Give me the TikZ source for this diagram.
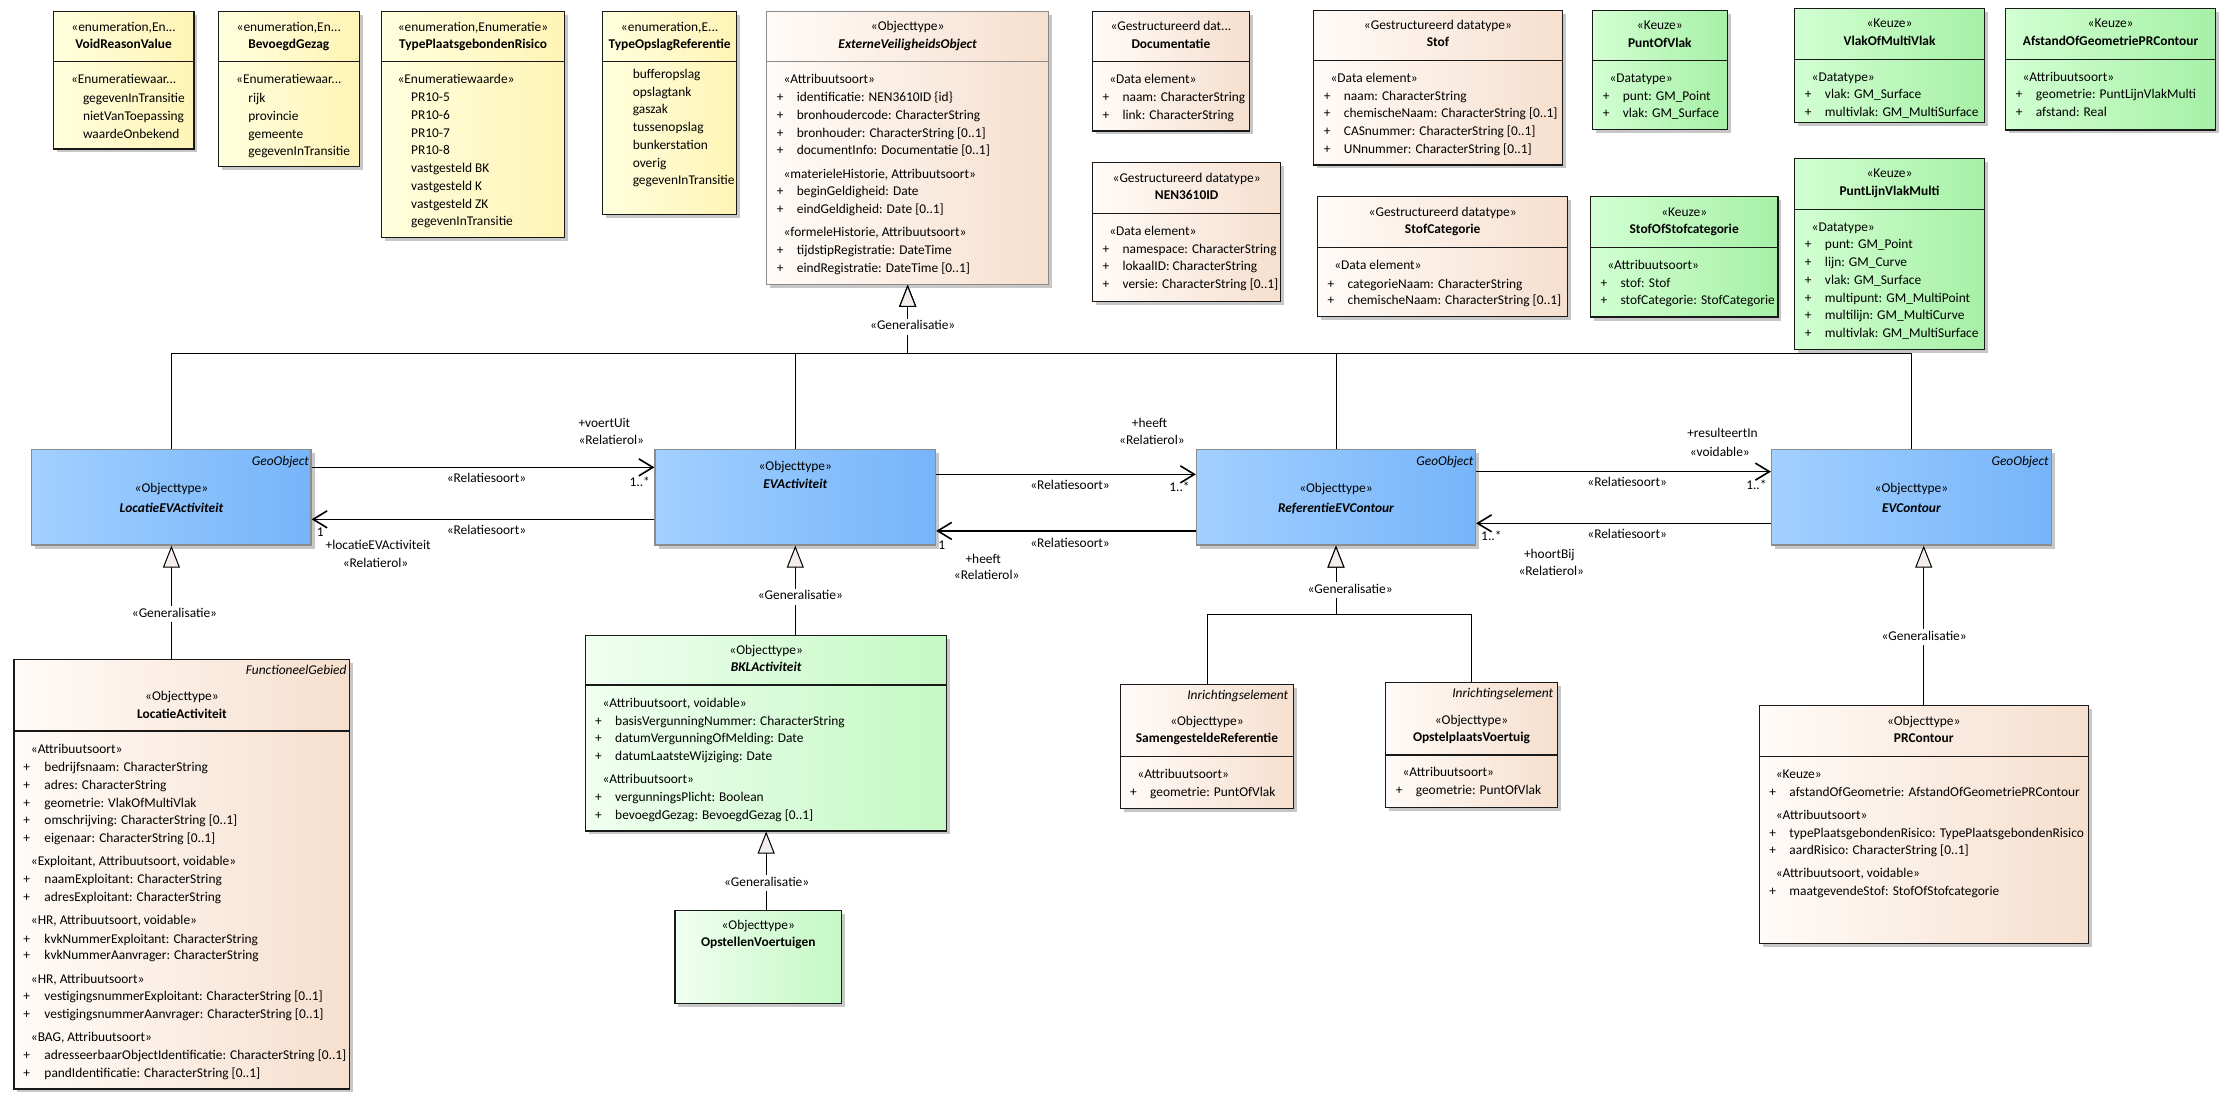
\documentclass[tikz,border=0pt]{standalone}
\usepackage{fontspec}
\setmainfont{Carlito}
\usetikzlibrary{positioning}
\usetikzlibrary{fit}
\usetikzlibrary{shadows}
\usetikzlibrary{arrows.meta}

\definecolor{geelL}{HTML}{FFFFDE}
\definecolor{geelR}{HTML}{FFF4B6}
\definecolor{beigeL}{HTML}{FFFBF8}
\definecolor{beigeR}{HTML}{F6DFCE}
\definecolor{groenL}{HTML}{D2FFD2}
\definecolor{groenR}{HTML}{A6F0A6}
\definecolor{lgroenL}{HTML}{F0FFF0}
\definecolor{lgroenR}{HTML}{C4F8C4}
\definecolor{blauwL}{HTML}{A2D0FF}
\definecolor{blauwR}{HTML}{76B4FA}
\definecolor{pijlvul}{HTML}{F3EEEC}

\newcommand{\tekst}{\fontsize{13.4}{16}\selectfont}

\tikzset{
    klasse/.style={draw=black!90, line width=1.2pt, inner sep=0pt,
        drop shadow={shadow xshift=3.5pt, shadow yshift=-3.5pt, fill=black!22, opacity=1}},
    enumbox/.style={klasse, left color=geelL, right color=geelR},
    databox/.style={klasse, left color=beigeL, right color=beigeR},
    keuzebox/.style={klasse, left color=groenL, right color=groenR},
    bklbox/.style={klasse, left color=lgroenL, right color=lgroenR},
    geobox/.style={klasse, draw=black!45, left color=blauwL, right color=blauwR},
    st/.style={font=\tekst, inner sep=0pt, text height=9pt, text depth=3pt},
    nm/.style={st, font=\tekst\bfseries},
    nmi/.style={st, font=\tekst\bfseries\itshape},
    attr/.style={st, anchor=west},
    tag/.style={st, font=\tekst\itshape, anchor=east},
    genlabel/.style={st, fill=white, inner xsep=1pt, inner ysep=2pt},
    scheiding/.style={line width=1.2pt, draw=black!90},
    assoc/.style={line width=1.6pt, -{Straight Barb[length=14pt, width=17pt, line width=1.6pt]}},
    genlijn/.style={line width=0.9pt, -{Triangle[length=22pt, width=17pt, fill=pijlvul, line width=1pt]}}
}

\begin{document}
\begin{tikzpicture}[x=1.428pt, y=-1.428pt]

    \path[use as bounding box, fill=white] (0,0) rectangle (1568,776);

    % Definindo enumeracoes
    \node[enumbox, fit={(37.3,8.2) (135.8,104.3)}] (void) {};
    \node[st] at (void.north |- 0,19.8) {«enumeration,En...};
    \node[nm] at (void.north |- 0,32) {VoidReasonValue};
    \draw[scheiding] (void.west |- 0,43.2) -- (void.east |- 0,43.2);
    \node[attr] at (49.6,56.5) {«Enumeratiewaar...};
    \foreach \y/\txt in {69.6/{gegevenInTransitie}, 82.2/{nietVanToepassing}, 94.6/{waardeOnbekend}}
        \node[attr] at (58,\y) {\txt};

    \node[enumbox, fit={(153,8.2) (251.5,116.7)}] (bevoegd) {};
    \node[st] at (bevoegd.north |- 0,19.8) {«enumeration,En...};
    \node[nm] at (bevoegd.north |- 0,32) {BevoegdGezag};
    \draw[scheiding] (bevoegd.west |- 0,43.2) -- (bevoegd.east |- 0,43.2);
    \node[attr] at (165.3,56.5) {«Enumeratiewaar...};
    \foreach \y/\txt in {69.6/{rijk}, 82.2/{provincie}, 94.6/{gemeente}, 106.9/{gegevenInTransitie}}
        \node[attr] at (173.8,\y) {\txt};

    \node[enumbox, fit={(267.1,8.2) (395.4,166.4)}] (typepr) {};
    \node[st] at (typepr.north |- 0,19.8) {«enumeration,Enumeratie»};
    \node[nm] at (typepr.north |- 0,32) {TypePlaatsgebondenRisico};
    \draw[scheiding] (typepr.west |- 0,43.2) -- (typepr.east |- 0,43.2);
    \node[attr] at (278.3,56.5) {«Enumeratiewaarde»};
    \foreach \y/\txt in {69.3/{PR10-5}, 81.7/{PR10-6}, 94.1/{PR10-7}, 106.2/{PR10-8},
                         118.6/{vastgesteld BK}, 131.4/{vastgesteld K}, 143.6/{vastgesteld ZK},
                         155.9/{gegevenInTransitie}}
        \node[attr] at (287.8,\y) {\txt};

    \node[enumbox, fit={(421.9,8.2) (516,150.1)}] (typeopslag) {};
    \node[st] at (typeopslag.north |- 0,19.8) {«enumeration,E...};
    \node[nm] at (typeopslag.north |- 0,32) {TypeOpslagReferentie};
    \draw[scheiding] (typeopslag.west |- 0,43.2) -- (typeopslag.east |- 0,43.2);
    \foreach \y/\txt in {53.2/{bufferopslag}, 65.8/{opslagtank}, 77.7/{gaszak}, 89.9/{tussenopslag},
                         102.7/{bunkerstation}, 115.3/{overig}, 127.2/{gegevenInTransitie}}
        \node[attr] at (443,\y) {\txt};

    % Definindo objecttype e datatypes
    \node[databox, draw=black!45, fit={(536.9,8.2) (734.4,199.1)}] (extvo) {};
    \node[st] at (extvo.north |- 0,19.4) {«Objecttype»};
    \node[nmi] at (extvo.north |- 0,32) {ExterneVeiligheidsObject};
    \draw[scheiding, draw=black!45] (extvo.west |- 0,43.2) -- (extvo.east |- 0,43.2);
    \foreach \y/\txt in {56.5/{«Attribuutsoort»}, 123/{«materieleHistorie, Attribuutsoort»},
                         163.4/{«formeleHistorie, Attribuutsoort»}}
        \node[attr] at (548.6,\y) {\txt};
    \foreach \y/\txt in {69.1/{identificatie: NEN3610ID \{id\}}, 81.7/{bronhoudercode: CharacterString},
                         94.3/{bronhouder: CharacterString [0..1]}, 106.2/{documentInfo: Documentatie [0..1]},
                         134.9/{beginGeldigheid: Date}, 147.5/{eindGeldigheid: Date [0..1]},
                         176.2/{tijdstipRegistratie: DateTime}, 188.6/{eindRegistratie: DateTime [0..1]}}
        {\node[attr] at (543.9,\y) {+}; \node[attr] at (557.9,\y) {\txt};}

    \node[databox, fit={(765,8.2) (875,91.7)}] (docu) {};
    \node[st] at (docu.north |- 0,19.4) {«Gestructureerd dat...};
    \node[nm] at (docu.north |- 0,32) {Documentatie};
    \draw[scheiding] (docu.west |- 0,43.2) -- (docu.east |- 0,43.2);
    \node[attr] at (776.7,56.5) {«Data element»};
    \foreach \y/\txt in {69.1/{naam: CharacterString}, 81.7/{link: CharacterString}}
        {\node[attr] at (772,\y) {+}; \node[attr] at (786,\y) {\txt};}

    \node[databox, fit={(765,113.7) (897,211.3)}] (nen) {};
    \node[st] at (nen.north |- 0,126) {«Gestructureerd datatype»};
    \node[nm] at (nen.north |- 0,137.7) {NEN3610ID};
    \draw[scheiding] (nen.west |- 0,149.4) -- (nen.east |- 0,149.4);
    \node[attr] at (776.7,162.7) {«Data element»};
    \foreach \y/\txt in {175.5/{namespace: CharacterString}, 187.4/{lokaalID: CharacterString},
                         200/{versie: CharacterString [0..1]}}
        {\node[attr] at (772,\y) {+}; \node[attr] at (786,\y) {\txt};}

    \node[databox, fit={(920,7.5) (1094,115.5)}] (stof) {};
    \node[st] at (stof.north |- 0,18.7) {«Gestructureerd datatype»};
    \node[nm] at (stof.north |- 0,30.8) {Stof};
    \draw[scheiding] (stof.west |- 0,42.3) -- (stof.east |- 0,42.3);
    \node[attr] at (931.7,55.6) {«Data element»};
    \foreach \y/\txt in {68.4/{naam: CharacterString}, 80.5/{chemischeNaam: CharacterString [0..1]},
                         92.9/{CASnummer: CharacterString [0..1]}, 105.5/{UNnummer: CharacterString [0..1]}}
        {\node[attr] at (927,\y) {+}; \node[attr] at (941,\y) {\txt};}

    \node[databox, fit={(922.6,137.7) (1098,221.8)}] (stofcat) {};
    \node[st] at (stofcat.north |- 0,149.4) {«Gestructureerd datatype»};
    \node[nm] at (stofcat.north |- 0,161.5) {StofCategorie};
    \draw[scheiding] (stofcat.west |- 0,173.2) -- (stofcat.east |- 0,173.2);
    \node[attr] at (934.3,186.7) {«Data element»};
    \foreach \y/\txt in {199.6/{categorieNaam: CharacterString}, 211.3/{chemischeNaam: CharacterString [0..1]}}
        {\node[attr] at (929.6,\y) {+}; \node[attr] at (943.6,\y) {\txt};}

    % Definindo keuzes
    \node[keuzebox, fit={(1115.3,7.5) (1209.5,90.6)}] (puntofvlak) {};
    \node[st] at (puntofvlak.north |- 0,18.7) {«Keuze»};
    \node[nm] at (puntofvlak.north |- 0,31) {PuntOfVlak};
    \draw[scheiding] (puntofvlak.west |- 0,42.5) -- (puntofvlak.east |- 0,42.5);
    \node[attr] at (1127,56) {«Datatype»};
    \foreach \y/\txt in {68.4/{punt: GM\_Point}, 80.5/{vlak: GM\_Surface}}
        {\node[attr] at (1122.3,\y) {+}; \node[attr] at (1136.3,\y) {\txt};}

    \node[keuzebox, fit={(1256.9,6.1) (1389.6,85.7)}] (vlakof) {};
    \node[st] at (vlakof.north |- 0,17) {«Keuze»};
    \node[nm] at (vlakof.north |- 0,29.6) {VlakOfMultiVlak};
    \draw[scheiding] (vlakof.west |- 0,41.8) -- (vlakof.east |- 0,41.8);
    \node[attr] at (1268.6,55.3) {«Datatype»};
    \foreach \y/\txt in {67.2/{vlak: GM\_Surface}, 79.8/{multivlak: GM\_MultiSurface}}
        {\node[attr] at (1263.9,\y) {+}; \node[attr] at (1277.9,\y) {\txt};}

    \node[keuzebox, fit={(1404.6,6.1) (1551.6,91)}] (afstand) {};
    \node[st] at (afstand.north |- 0,17) {«Keuze»};
    \node[nm] at (afstand.north |- 0,29.6) {AfstandOfGeometriePRContour};
    \draw[scheiding] (afstand.west |- 0,41.8) -- (afstand.east |- 0,41.8);
    \node[attr] at (1416.3,55.3) {«Attribuutsoort»};
    \foreach \y/\txt in {67.2/{geometrie: PuntLijnVlakMulti}, 79.8/{afstand: Real}}
        {\node[attr] at (1411.6,\y) {+}; \node[attr] at (1425.6,\y) {\txt};}

    \node[keuzebox, fit={(1113.8,137.7) (1245.1,222)}] (stofof) {};
    \node[st] at (stofof.north |- 0,149.4) {«Keuze»};
    \node[nm] at (stofof.north |- 0,161.5) {StofOfStofcategorie};
    \draw[scheiding] (stofof.west |- 0,173.4) -- (stofof.east |- 0,173.4);
    \node[attr] at (1125.5,186.7) {«Attribuutsoort»};
    \foreach \y/\txt in {199.1/{stof: Stof}, 211.3/{stofCategorie: StofCategorie}}
        {\node[attr] at (1120.8,\y) {+}; \node[attr] at (1134.8,\y) {\txt};}

    \node[keuzebox, fit={(1256.9,111.1) (1389.6,245)}] (puntlijn) {};
    \node[st] at (puntlijn.north |- 0,122.5) {«Keuze»};
    \node[nm] at (puntlijn.north |- 0,134.9) {PuntLijnVlakMulti};
    \draw[scheiding] (puntlijn.west |- 0,146.6) -- (puntlijn.east |- 0,146.6);
    \node[attr] at (1268.6,160.1) {«Datatype»};
    \foreach \y/\txt in {172/{punt: GM\_Point}, 184.6/{lijn: GM\_Curve}, 197.2/{vlak: GM\_Surface},
                         209.6/{multipunt: GM\_MultiPoint}, 221.7/{multilijn: GM\_MultiCurve},
                         234.1/{multivlak: GM\_MultiSurface}}
        {\node[attr] at (1263.9,\y) {+}; \node[attr] at (1277.9,\y) {\txt};}

    % Definindo geo-objecten
    \node[geobox, fit={(22.3,314.7) (217.8,381.7)}] (locev) {};
    \node[tag] at (216.5,324) {GeoObject};
    \node[st] at (locev.north |- 0,342.7) {«Objecttype»};
    \node[nmi] at (locev.north |- 0,356.7) {LocatieEVActiviteit};

    \node[geobox, fit={(458.7,314.7) (655.2,381.7)}] (evact) {};
    \node[st] at (evact.north |- 0,327.5) {«Objecttype»};
    \node[nmi] at (evact.north |- 0,339.9) {EVActiviteit};

    \node[geobox, fit={(837.9,314.7) (1033.3,381.7)}] (refev) {};
    \node[tag] at (1032,324) {GeoObject};
    \node[st] at (refev.north |- 0,343.1) {«Objecttype»};
    \node[nmi] at (refev.north |- 0,356.5) {ReferentieEVContour};

    \node[geobox, fit={(1240.6,314.7) (1436.6,381.7)}] (evcont) {};
    \node[tag] at (1434.8,324) {GeoObject};
    \node[st] at (evcont.north |- 0,343.1) {«Objecttype»};
    \node[nmi] at (evcont.north |- 0,356.5) {EVContour};

    % Definindo subtypes
    \node[databox, fit={(9.8,461.6) (245,762.6)}] (locact) {};
    \node[tag] at (242.8,470.4) {FunctioneelGebied};
    \node[st] at (locact.north |- 0,488.6) {«Objecttype»};
    \node[nm] at (locact.north |- 0,500.9) {LocatieActiviteit};
    \draw[scheiding] (locact.west |- 0,511.9) -- (locact.east |- 0,511.9);
    \foreach \y/\txt in {525.4/{«Attribuutsoort»}, 603.9/{«Exploitant, Attribuutsoort, voidable»},
                         645.4/{«HR, Attribuutsoort, voidable»}, 686.5/{«HR, Attribuutsoort»},
                         727.1/{«BAG, Attribuutsoort»}}
        \node[attr] at (21.5,\y) {\txt};
    \foreach \y/\txt in {538.3/{bedrijfsnaam: CharacterString}, 550.9/{adres: CharacterString},
                         563.3/{geometrie: VlakOfMultiVlak}, 575.6/{omschrijving: CharacterString [0..1]},
                         588.2/{eigenaar: CharacterString [0..1]}, 616.7/{naamExploitant: CharacterString},
                         629.3/{adresExploitant: CharacterString}, 658.3/{kvkNummerExploitant: CharacterString},
                         670/{kvkNummerAanvrager: CharacterString},
                         698.9/{vestigingsnummerExploitant: CharacterString [0..1]},
                         711.3/{vestigingsnummerAanvrager: CharacterString [0..1]},
                         740/{adresseerbaarObjectIdentificatie: CharacterString [0..1]},
                         752.3/{pandIdentificatie: CharacterString [0..1]}}
        {\node[attr] at (16.3,\y) {+}; \node[attr] at (31,\y) {\txt};}

    \node[bklbox, fit={(410.1,444.9) (663,581.9)}] (bkl) {};
    \node[st] at (bkl.north |- 0,456.3) {«Objecttype»};
    \node[nmi] at (bkl.north |- 0,468) {BKLActiviteit};
    \draw[scheiding] (bkl.west |- 0,479.7) -- (bkl.east |- 0,479.7);
    \foreach \y/\txt in {493.2/{«Attribuutsoort, voidable»}, 546.4/{«Attribuutsoort»}}
        \node[attr] at (421.8,\y) {\txt};
    \foreach \y/\txt in {506.1/{basisVergunningNummer: CharacterString}, 517.7/{datumVergunningOfMelding: Date},
                         530.3/{datumLaatsteWijziging: Date}, 559.3/{vergunningsPlicht: Boolean},
                         571.9/{bevoegdGezag: BevoegdGezag [0..1]}}
        {\node[attr] at (416.7,\y) {+}; \node[attr] at (430.7,\y) {\txt};}

    \node[bklbox, fit={(472.7,637.7) (589.4,703)}] (opst) {};
    \node[st] at (opst.north |- 0,649) {«Objecttype»};
    \node[nm] at (opst.north |- 0,661) {OpstellenVoertuigen};

    \node[databox, fit={(784.8,479.2) (905.7,566)}] (samref) {};
    \node[tag] at (902.2,487.9) {Inrichtingselement};
    \node[st] at (samref.north |- 0,506.1) {«Objecttype»};
    \node[nm] at (samref.north |- 0,517.7) {SamengesteldeReferentie};
    \draw[scheiding] (samref.west |- 0,529.9) -- (samref.east |- 0,529.9);
    \node[attr] at (796.4,543.2) {«Attribuutsoort»};
    \node[attr] at (791.3,555.5) {+};
    \node[attr] at (805.3,555.5) {geometrie: PuntOfVlak};

    \node[databox, fit={(970.4,478) (1090.6,565.6)}] (opstel) {};
    \node[tag] at (1087.8,486.7) {Inrichtingselement};
    \node[st] at (opstel.north |- 0,505.5) {«Objecttype»};
    \node[nm] at (opstel.north |- 0,517.5) {OpstelplaatsVoertuig};
    \draw[scheiding] (opstel.west |- 0,528.7) -- (opstel.east |- 0,528.7);
    \node[attr] at (982.1,542) {«Attribuutsoort»};
    \node[attr] at (977.4,554.4) {+};
    \node[attr] at (991.4,554.4) {geometrie: PuntOfVlak};

    \node[databox, fit={(1232,494.2) (1462.4,660.6)}] (prc) {};
    \node[st] at (prc.north |- 0,506.1) {«Objecttype»};
    \node[nm] at (prc.north |- 0,517.7) {PRContour};
    \draw[scheiding] (prc.west |- 0,529.9) -- (prc.east |- 0,529.9);
    \foreach \y/\txt in {543.2/{«Keuze»}, 571.9/{«Attribuutsoort»}, 612.7/{«Attribuutsoort, voidable»}}
        \node[attr] at (1243.5,\y) {\txt};
    \foreach \y/\txt in {555.5/{afstandOfGeometrie: AfstandOfGeometriePRContour},
                         584.2/{typePlaatsgebondenRisico: TypePlaatsgebondenRisico},
                         596.4/{aardRisico: CharacterString [0..1]},
                         625.1/{maatgevendeStof: StofOfStofcategorie}}
        {\node[attr] at (1239,\y) {+}; \node[attr] at (1253,\y) {\txt};}

    % Definindo generalisaties
    \coordinate (bus) at (extvo.south |- 0,247.4);
    \foreach \kind in {locev, evact, refev, evcont}
        \draw[genlijn] (\kind.north) |- (bus) -- (extvo.south);
    \draw[genlijn] (locact.north -| locev.south) -- (locev.south);
    \draw[genlijn] (bkl.north -| evact.south) -- (evact.south);
    \draw[genlijn] (opst.north -| bkl.south) -- (bkl.south);
    \coordinate (tak) at (refev.south |- 0,430);
    \foreach \kind in {samref, opstel}
        \draw[genlijn] (\kind.north) |- (tak) -- (refev.south);
    \draw[genlijn] (prc.north) -- (prc.north |- evcont.south);

    \foreach \pos in {(639.2,228.8), (122.2,430.2), (560.5,417.8), (945.5,413.2), (1347.5,446.3), (536.9,618.6)}
        \node[genlabel] at \pos {«Generalisatie»};

    % Definindo relaties
    \draw[assoc] (locev.east |- 0,327.3) -- (evact.west |- 0,327.3);
    \draw[assoc] (evact.west |- 0,363.7) -- (locev.east |- 0,363.7);
    \draw[assoc] (evact.east |- 0,332.2) -- (refev.west |- 0,332.2);
    \draw[assoc] (refev.west |- 0,371.8) -- (evact.east |- 0,371.8);
    \draw[assoc] (refev.east |- 0,330.3) -- (evcont.west |- 0,330.3);
    \draw[assoc] (evcont.west |- 0,366.5) -- (refev.east |- 0,366.5);

    \node[attr] at (405,297.4) {+voertUit};
    \node[attr] at (405,309) {«Relatierol»};
    \foreach \pos/\txt in {{(340.7,336)}/{«Relatiesoort»}, {(448,338.5)}/{1..*},
                           {(340.7,372.3)}/{«Relatiesoort»}, {(224.2,373.5)}/{1},
                           {(264.8,382.8)}/{+locatieEVActiviteit}, {(263,395)}/{«Relatierol»},
                           {(805,297.4)}/{+heeft}, {(806.7,309)}/{«Relatierol»},
                           {(749.4,340.8)}/{«Relatiesoort»}, {(826,342.4)}/{1..*},
                           {(749.4,381)}/{«Relatiesoort»}, {(659.5,382.8)}/{1},
                           {(688.5,392.2)}/{+heeft}, {(691,403.8)}/{«Relatierol»},
                           {(1206.3,304.6)}/{+resulteertIn}, {(1204.4,317.5)}/{«voidable»},
                           {(1139.5,338.9)}/{«Relatiesoort»}, {(1230,340.8)}/{1..*},
                           {(1139.5,375.1)}/{«Relatiesoort»}, {(1044.4,376.3)}/{1..*},
                           {(1085,388.7)}/{+hoortBij}, {(1086.4,401)}/{«Relatierol»}}
        \node[st] at \pos {\txt};

\end{tikzpicture}
\end{document}
